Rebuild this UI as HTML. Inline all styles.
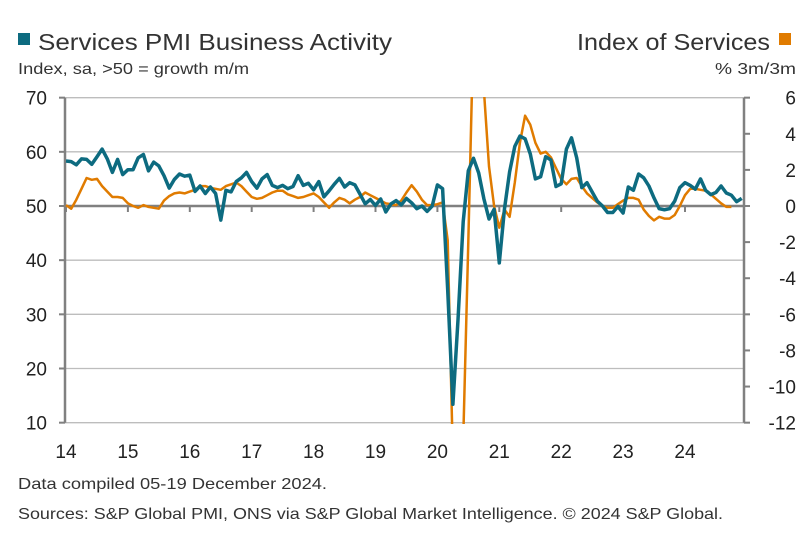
<!DOCTYPE html>
<html><head><meta charset="utf-8"><style>
html,body{margin:0;padding:0;background:#fff;width:809px;height:533px;overflow:hidden;font-family:"Liberation Sans",sans-serif;}
svg{display:block}
</style></head><body>
<svg id="c" width="809" height="533">
<rect x="18" y="33" width="12" height="12" fill="#0d6b80"/>
<text x="38" y="50" font-size="23" fill="#333" textLength="354" lengthAdjust="spacingAndGlyphs">Services PMI Business Activity</text>
<text x="18" y="74" font-size="16" fill="#333" textLength="231" lengthAdjust="spacingAndGlyphs">Index, sa, &gt;50 = growth m/m</text>
<text x="577" y="50" font-size="23" fill="#333" textLength="193" lengthAdjust="spacingAndGlyphs">Index of Services</text>
<rect x="779" y="33" width="12" height="12" fill="#e07b00"/>
<text x="715" y="74" font-size="16" fill="#333" textLength="81" lengthAdjust="spacingAndGlyphs">% 3m/3m</text>
<text x="18" y="489" font-size="16" fill="#333" textLength="309" lengthAdjust="spacingAndGlyphs">Data compiled 05-19 December 2024.</text>
<text x="18" y="519" font-size="16" fill="#333" textLength="705" lengthAdjust="spacingAndGlyphs">Sources: S&amp;P Global PMI, ONS via S&amp;P Global Market Intelligence. © 2024 S&amp;P Global.</text>
<defs><clipPath id="pc"><rect x="65" y="97" width="680" height="327"/></clipPath></defs>
<g id="grid"></g><g id="axes"></g><g id="series" clip-path="url(#pc)"></g>
</svg>
<script>
const years=["14","15","16","17","18","19","20","21","22","23","24"];
const leftTicks=[10,20,30,40,50,60,70];
const rightTicks=[-12,-10,-8,-6,-4,-2,0,2,4,6];
const pmi=[58.3,58.2,57.6,58.7,58.6,57.7,59.1,60.5,58.7,56.2,58.6,55.8,
56.7,56.7,58.9,59.5,56.5,58.1,57.4,55.6,53.3,54.9,55.9,55.5,
55.7,52.7,53.7,52.3,53.5,52.3,47.4,52.9,52.6,54.5,55.2,56.2,
54.5,53.3,55.0,55.8,53.8,53.4,53.8,53.2,53.6,55.6,53.8,54.2,
53.0,54.5,51.7,52.8,54.0,55.1,53.5,54.3,53.9,52.2,50.4,51.2,
50.1,51.3,48.9,50.4,51.0,50.2,51.4,50.6,49.5,50.0,49.0,50.0,
53.9,53.2,34.5,13.4,29.0,47.1,56.5,58.8,56.1,51.4,47.6,49.4,
39.5,49.5,56.3,61.0,62.9,62.4,59.6,55.0,55.4,59.1,58.5,53.6,
54.1,60.5,62.6,58.9,53.4,54.3,52.6,50.9,50.0,48.8,48.8,49.9,
48.7,53.5,52.9,55.9,55.2,53.7,51.5,49.5,49.3,49.5,50.9,53.4,
54.3,53.8,53.1,55.0,52.9,52.1,52.5,53.7,52.4,52.0,50.8,51.4];
const ios=[0.05,-0.15,0.35,0.95,1.55,1.45,1.5,1.1,0.8,0.5,0.5,0.45,
0.15,0.0,-0.1,0.05,-0.05,-0.1,-0.15,0.3,0.55,0.7,0.75,0.7,
0.8,0.9,1.1,1.1,1.0,0.95,0.9,1.1,1.2,1.3,1.1,0.8,
0.5,0.4,0.45,0.6,0.75,0.85,0.85,0.65,0.55,0.45,0.5,0.6,
0.7,0.5,0.2,-0.1,0.2,0.45,0.35,0.15,0.35,0.5,0.75,0.6,
0.45,0.3,0.15,0.1,0.05,0.3,0.75,1.15,0.8,0.35,0.05,0.05,
0.1,0.2,-1.9,-14,-20,-13,-2,10,14,6.5,2.2,0.0,
-1.2,-0.2,-0.6,1.3,3.5,5.0,4.5,3.5,2.9,3.0,2.7,2.1,
1.5,1.2,1.5,1.55,1.1,0.7,0.45,0.2,0.0,-0.1,-0.1,0.1,
0.3,0.45,0.45,0.35,-0.2,-0.55,-0.8,-0.6,-0.7,-0.7,-0.5,0.0,
0.6,0.95,0.95,0.9,0.85,0.65,0.4,0.15,-0.05,-0.05];
const X0=65,X1=744,TOP=97.7,BOT=422.7;
const xm=m=>66+m*(61.9/12);
const yl=v=>206-(v-50)*(BOT-TOP)/60;
const yr=v=>206-v*(BOT-TOP)/18;
const NS="http://www.w3.org/2000/svg";
function mk(tag,attrs,parent,txt){const e=document.createElementNS(NS,tag);for(const k in attrs)e.setAttribute(k,attrs[k]);if(txt!==undefined)e.textContent=txt;document.getElementById(parent).appendChild(e);return e;}
leftTicks.forEach(v=>{const y=yl(v);
 if(v!==50){const g=mk('line',{x1:X0,x2:X1,y1:y,y2:y,stroke:'#bdbdbd','stroke-width':1.3},'grid');
 
 }
 const t=mk('line',{x1:X0-6,x2:X0,y1:y,y2:y,stroke:'#808080','stroke-width':2},'axes');
 
 
 const l=mk('text',{x:47,y:y+7,'font-size':19,'text-anchor':'end',fill:'#222'},'axes',String(v));
 
 });
rightTicks.forEach(v=>{const y=yr(v);
 const t=mk('line',{x1:X1,x2:X1+6,y1:y,y2:y,stroke:'#808080','stroke-width':2},'axes');
 
 
 const l=mk('text',{x:796,y:y+7,'font-size':19,'text-anchor':'end',fill:'#222'},'axes',String(v));
 
 });
let a=mk('line',{x1:X0,x2:X0,y1:TOP,y2:BOT,stroke:'#808080','stroke-width':2.5},'axes');


a=mk('line',{x1:X1,x2:X1,y1:TOP,y2:BOT,stroke:'#808080','stroke-width':2.5},'axes');


a=mk('line',{x1:X0,x2:X1,y1:yl(50),y2:yl(50),stroke:'#808080','stroke-width':2.5},'axes');


years.forEach((yv,i)=>{const x=xm(i*12);
 const t=mk('line',{x1:x,x2:x,y1:yl(50),y2:yl(50)+6,stroke:'#808080','stroke-width':2},'axes');
 
 
 const l=mk('text',{x:x,y:458,'font-size':19,'text-anchor':'middle',fill:'#222'},'axes',yv);
 
 });
const po=mk('polyline',{points:ios.map((v,i)=>xm(i).toFixed(1)+','+yr(v).toFixed(1)).join(' '),fill:'none',stroke:'#e07b00','stroke-width':2.5,'stroke-linejoin':'round'},'series');


const pb=mk('polyline',{points:pmi.map((v,i)=>xm(i).toFixed(1)+','+yl(v).toFixed(1)).join(' '),fill:'none',stroke:'#0d6b80','stroke-width':3.5,'stroke-linejoin':'round'},'series');


</script>
</body></html>
